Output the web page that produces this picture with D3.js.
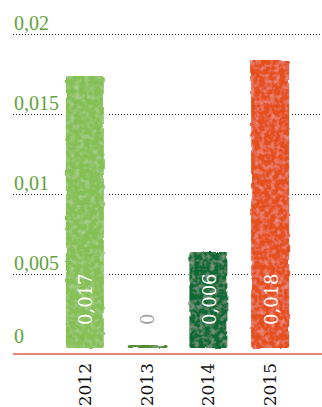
<html>
    <head>
        <script src="https://d3js.org/d3.v7.min.js"></script>
        <style>
            body{
                margin: 0;
                background: #fff;
            }
        </style>
    </head>
    <body>
        <svg id="svg" width="322" height="407"></svg>
        <script>
            var years = ['2012', '2013', '2014', '2015'];
            var values = [0.017, 0, 0.006, 0.018];
            var valueLabels = ['0,017', '0', '0,006', '0,018'];
            var tickValues = [0, 0.005, 0.01, 0.015, 0.02];
            var tickLabels = ['0', '0,005', '0,01', '0,015', '0,02'];
            var barColors = ['#85c055', '#4a8a28', '#0c6b35', '#e5501c'];

            var svg = d3.select("svg");
            var width = +svg.attr("width");
            var height = +svg.attr("height");
            var green = '#5fa23c';

            // grid scale and bar scale (bars sit a few px above the red line)
            var y = d3.scaleLinear().domain([0, 0.02]).range([354, 34]);
            var yBar = d3.scaleLinear().domain([0, 0.02]).range([348, 28]);
            var x = d3.scalePoint().domain(years).range([54, 301]).padding(0.5);
            var barW = 38;

            // rough painted look
            var defs = svg.append("defs");
            var f = defs.append("filter").attr("id", "paint")
                .attr("x", "-10%").attr("y", "-10%").attr("width", "120%").attr("height", "120%");
            f.append("feTurbulence").attr("type", "fractalNoise").attr("baseFrequency", 0.09)
                .attr("numOctaves", 3).attr("seed", 4).attr("result", "noise");
            f.append("feDisplacementMap").attr("in", "SourceGraphic").attr("in2", "noise")
                .attr("scale", 3).attr("result", "disp");
            f.append("feTurbulence").attr("type", "fractalNoise").attr("baseFrequency", 0.2)
                .attr("numOctaves", 2).attr("seed", 9).attr("result", "grain");
            f.append("feColorMatrix").attr("in", "grain").attr("type", "matrix")
                .attr("values", "0 0 0 0 1  0 0 0 0 1  0 0 0 0 1  0 0 0 0.5 -0.22").attr("result", "spots");
            f.append("feComposite").attr("in", "spots").attr("in2", "disp").attr("operator", "in").attr("result", "spotsIn");
            var m = f.append("feMerge");
            m.append("feMergeNode").attr("in", "disp");
            m.append("feMergeNode").attr("in", "spotsIn");

            // dotted grid lines
            svg.selectAll(".grid")
                .data(tickValues.slice(1))
                .enter().append("line")
                .attr("x1", 13).attr("x2", width)
                .attr("y1", d => y(d) + 0.5).attr("y2", d => y(d) + 0.5)
                .attr("stroke", "#222")
                .attr("stroke-width", 1)
                .attr("stroke-dasharray", "1,2");

            // tick labels
            svg.selectAll(".tick")
                .data(tickValues)
                .enter().append("text")
                .attr("x", 14)
                .attr("y", d => d === 0 ? y(d) - 11 : y(d) - 4)
                .attr("fill", green)
                .attr("font-family", "'Liberation Serif', serif")
                .attr("font-size", 20)
                .text((d, i) => tickLabels[i]);

            // white gaps behind the bars
            svg.selectAll(".gap")
                .data(values)
                .enter().append("rect")
                .attr("x", (d, i) => x(years[i]) - barW / 2 - 3)
                .attr("width", barW + 6)
                .attr("y", d => Math.min(yBar(d), yBar(0) - 3) - 3)
                .attr("height", d => Math.max(yBar(0) - yBar(d), 3) + 3)
                .attr("fill", "#fff");

            // bars
            svg.selectAll(".bar")
                .data(values)
                .enter().append("rect")
                .attr("x", (d, i) => x(years[i]) - barW / 2)
                .attr("width", (d, i) => d === 0 ? barW + 2 : barW)
                .attr("y", d => Math.min(yBar(d), yBar(0) - 3))
                .attr("height", d => Math.max(yBar(0) - yBar(d), 3))
                .attr("rx", 2)
                .attr("fill", (d, i) => barColors[i])
                .attr("filter", "url(#paint)");

            // red base line
            svg.append("line")
                .attr("x1", 13).attr("x2", width)
                .attr("y1", y(0)).attr("y2", y(0))
                .attr("stroke", "#e45d4f")
                .attr("stroke-width", 1.5);

            // values inside bars
            svg.selectAll(".val")
                .data(values)
                .enter().append("text")
                .attr("transform", (d, i) => "translate(" + (x(years[i]) + 1) + "," + (yBar(0) - 23) + ") rotate(-90)")
                .attr("dominant-baseline", "central")
                .attr("fill", d => d === 0 ? "#a0a0a0" : "#fff")
                .attr("font-family", "'DejaVu Serif', serif")
                .attr("font-size", 18)
                .text((d, i) => valueLabels[i]);

            // year labels
            svg.selectAll(".year")
                .data(years)
                .enter().append("text")
                .attr("transform", d => "translate(" + x(d) + "," + (y(0) + 9) + ") rotate(-90)")
                .attr("text-anchor", "end")
                .attr("dominant-baseline", "central")
                .attr("fill", "#111")
                .attr("font-family", "'DejaVu Serif', serif")
                .attr("font-size", 17)
                .text(d => d);
        </script>
    </body>
</html>
